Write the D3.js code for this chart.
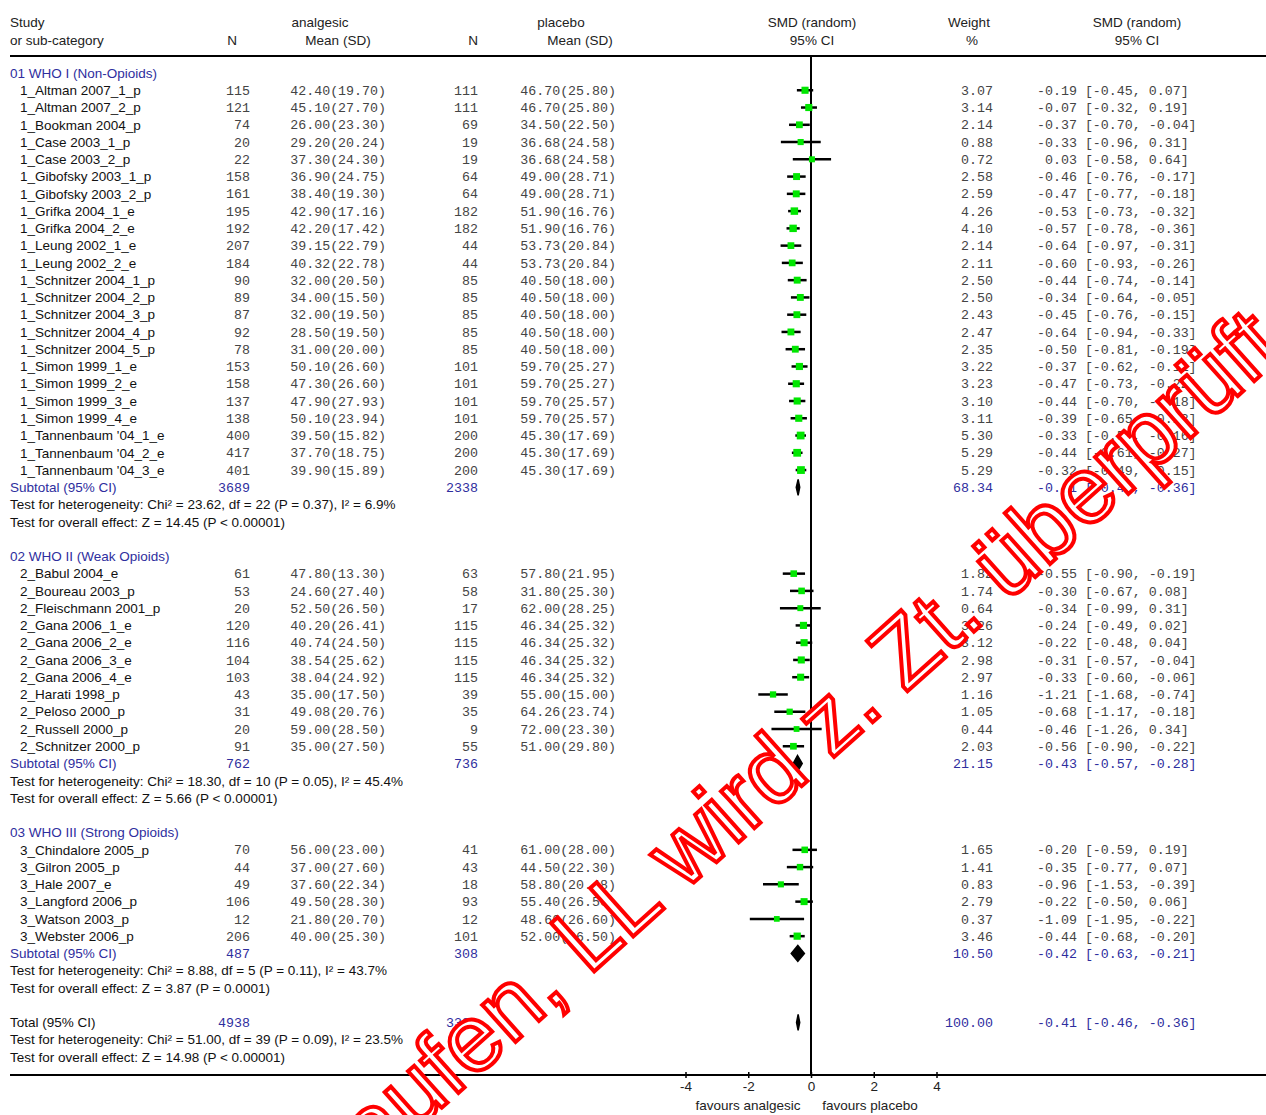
<!DOCTYPE html>
<html>
<head>
<meta charset="utf-8">
<script src="https://cdn.jsdelivr.net/npm/d3@7"></script>
<style>
  body { margin: 0; background: #fff; }
  text { font-family: "Liberation Sans", Arial, sans-serif; font-size: 13.5px; }
  .mono { font-family: "Liberation Mono", "Courier New", monospace; font-size: 13.3px; white-space: pre; }
</style>
</head>
<body>
<svg id="chart" width="1266" height="1115"></svg>
<script>
// ---- data ----
const groupTitles = ["01 WHO I (Non-Opioids)", "02 WHO II (Weak Opioids)", "03 WHO III (Strong Opioids)"];

const studyNames = [
  ["1_Altman 2007_1_p","1_Altman 2007_2_p","1_Bookman 2004_p","1_Case 2003_1_p","1_Case 2003_2_p",
   "1_Gibofsky 2003_1_p","1_Gibofsky 2003_2_p","1_Grifka 2004_1_e","1_Grifka 2004_2_e","1_Leung 2002_1_e",
   "1_Leung 2002_2_e","1_Schnitzer 2004_1_p","1_Schnitzer 2004_2_p","1_Schnitzer 2004_3_p","1_Schnitzer 2004_4_p",
   "1_Schnitzer 2004_5_p","1_Simon 1999_1_e","1_Simon 1999_2_e","1_Simon 1999_3_e","1_Simon 1999_4_e",
   "1_Tannenbaum '04_1_e","1_Tannenbaum '04_2_e","1_Tannenbaum '04_3_e"],
  ["2_Babul 2004_e","2_Boureau 2003_p","2_Fleischmann 2001_p","2_Gana 2006_1_e","2_Gana 2006_2_e",
   "2_Gana 2006_3_e","2_Gana 2006_4_e","2_Harati 1998_p","2_Peloso 2000_p","2_Russell 2000_p","2_Schnitzer 2000_p"],
  ["3_Chindalore 2005_p","3_Gilron 2005_p","3_Hale 2007_e","3_Langford 2006_p","3_Watson 2003_p","3_Webster 2006_p"]
];

const nAnalgesic = [
  [115,121,74,20,22,158,161,195,192,207,184,90,89,87,92,78,153,158,137,138,400,417,401],
  [61,53,20,120,116,104,103,43,31,20,91],
  [70,44,49,106,12,206]
];
const meanAnalgesic = [
  [42.40,45.10,26.00,29.20,37.30,36.90,38.40,42.90,42.20,39.15,40.32,32.00,34.00,32.00,28.50,31.00,50.10,47.30,47.90,50.10,39.50,37.70,39.90],
  [47.80,24.60,52.50,40.20,40.74,38.54,38.04,35.00,49.08,59.00,35.00],
  [56.00,37.00,37.60,49.50,21.80,40.00]
];
const sdAnalgesic = [
  [19.70,27.70,23.30,20.24,24.30,24.75,19.30,17.16,17.42,22.79,22.78,20.50,15.50,19.50,19.50,20.00,26.60,26.60,27.93,23.94,15.82,18.75,15.89],
  [13.30,27.40,26.50,26.41,24.50,25.62,24.92,17.50,20.76,28.50,27.50],
  [23.00,27.60,22.34,28.30,20.70,25.30]
];
const nPlacebo = [
  [111,111,69,19,19,64,64,182,182,44,44,85,85,85,85,85,101,101,101,101,200,200,200],
  [63,58,17,115,115,115,115,39,35,9,55],
  [41,43,18,93,12,101]
];
const meanPlacebo = [
  [46.70,46.70,34.50,36.68,36.68,49.00,49.00,51.90,51.90,53.73,53.73,40.50,40.50,40.50,40.50,40.50,59.70,59.70,59.70,59.70,45.30,45.30,45.30],
  [57.80,31.80,62.00,46.34,46.34,46.34,46.34,55.00,64.26,72.00,51.00],
  [61.00,44.50,58.80,55.40,48.60,52.00]
];
const sdPlacebo = [
  [25.80,25.80,22.50,24.58,24.58,28.71,28.71,16.76,16.76,20.84,20.84,18.00,18.00,18.00,18.00,18.00,25.27,25.27,25.57,25.57,17.69,17.69,17.69],
  [21.95,25.30,28.25,25.32,25.32,25.32,25.32,15.00,23.74,23.30,29.80],
  [28.00,22.30,20.48,26.50,26.60,26.50]
];
const weights = [
  [3.07,3.14,2.14,0.88,0.72,2.58,2.59,4.26,4.10,2.14,2.11,2.50,2.50,2.43,2.47,2.35,3.22,3.23,3.10,3.11,5.30,5.29,5.29],
  [1.82,1.74,0.64,3.26,3.12,2.98,2.97,1.16,1.05,0.44,2.03],
  [1.65,1.41,0.83,2.79,0.37,3.46]
];
const smd = [
  [-0.19,-0.07,-0.37,-0.33,0.03,-0.46,-0.47,-0.53,-0.57,-0.64,-0.60,-0.44,-0.34,-0.45,-0.64,-0.50,-0.37,-0.47,-0.44,-0.39,-0.33,-0.44,-0.32],
  [-0.55,-0.30,-0.34,-0.24,-0.22,-0.31,-0.33,-1.21,-0.68,-0.46,-0.56],
  [-0.20,-0.35,-0.96,-0.22,-1.09,-0.44]
];
const ciLow = [
  [-0.45,-0.32,-0.70,-0.96,-0.58,-0.76,-0.77,-0.73,-0.78,-0.97,-0.93,-0.74,-0.64,-0.76,-0.94,-0.81,-0.62,-0.73,-0.70,-0.65,-0.50,-0.61,-0.49],
  [-0.90,-0.67,-0.99,-0.49,-0.48,-0.57,-0.60,-1.68,-1.17,-1.26,-0.90],
  [-0.59,-0.77,-1.53,-0.50,-1.95,-0.68]
];
const ciHigh = [
  [0.07,0.19,-0.04,0.31,0.64,-0.17,-0.18,-0.32,-0.36,-0.31,-0.26,-0.14,-0.05,-0.15,-0.33,-0.19,-0.11,-0.22,-0.18,-0.13,-0.16,-0.27,-0.15],
  [-0.19,0.08,0.31,0.02,0.04,-0.04,-0.06,-0.74,-0.18,0.34,-0.22],
  [0.19,0.07,-0.39,0.06,-0.22,-0.20]
];

const subWeight = [68.34, 21.15, 10.50];
const subSmd = [-0.41, -0.43, -0.42];
const subLow = [-0.47, -0.57, -0.63];
const subHigh = [-0.36, -0.28, -0.21];
const hetTexts = [
  "Test for heterogeneity: Chi² = 23.62, df = 22 (P = 0.37), I² = 6.9%",
  "Test for heterogeneity: Chi² = 18.30, df = 10 (P = 0.05), I² = 45.4%",
  "Test for heterogeneity: Chi² = 8.88, df = 5 (P = 0.11), I² = 43.7%"
];
const effectTexts = [
  "Test for overall effect: Z = 14.45 (P < 0.00001)",
  "Test for overall effect: Z = 5.66 (P < 0.00001)",
  "Test for overall effect: Z = 3.87 (P = 0.0001)"
];
const total = { weight: 100.00, smd: -0.41, low: -0.46, high: -0.36 };
const totalHet = "Test for heterogeneity: Chi² = 51.00, df = 39 (P = 0.09), I² = 23.5%";
const totalEffect = "Test for overall effect: Z = 14.98 (P < 0.00001)";

const tickValues = [-4, -2, 0, 2, 4];
const watermark = "Gültigkeit abgelaufen, LL wird z. Zt. überprüft";

// ---- layout ----
const svg = d3.select("#chart");
const blue = "#2e2e9e";
const grey = "#444";

const x = d3.scaleLinear().domain([-4, 4]).range([685.5, 936.5]);
const y = d3.scaleLinear().domain([0, 57]).range([73, 1057]);
const axisY = 1075;

const f2 = v => v.toFixed(2);
const pad = (s, n) => s.padStart(n, " ");
const ciText = (e, l, h) => pad(f2(e), 5) + " [" + pad(f2(l), 5) + ", " + f2(h) + "]";

// header
const head = svg.append("g").attr("fill", "#222");
[["Study", 10, 22, "start"], ["or sub-category", 10, 40, "start"],
 ["N", 232, 40, "middle"], ["analgesic", 320, 22, "middle"], ["Mean (SD)", 338, 40, "middle"],
 ["N", 473, 40, "middle"], ["placebo", 561, 22, "middle"], ["Mean (SD)", 580, 40, "middle"],
 ["SMD (random)", 812, 22, "middle"], ["95% CI", 812, 40, "middle"],
 ["Weight", 969, 22, "middle"], ["%", 972, 40, "middle"],
 ["SMD (random)", 1137, 22, "middle"], ["95% CI", 1137, 40, "middle"]]
  .forEach(([t, hx, hy, a]) => head.append("text").attr("x", hx).attr("y", hy)
    .attr("dy", "0.35em").attr("text-anchor", a).text(t));

svg.append("line").attr("x1", 10).attr("x2", 1266).attr("y1", 56).attr("y2", 56)
  .attr("stroke", "#000").attr("stroke-width", 2);

// build row list
let row = 0;
const rows = [];
groupTitles.forEach((g, gi) => {
  rows.push({ type: "group", i: row++, label: g });
  studyNames[gi].forEach((name, si) => {
    rows.push({ type: "study", i: row++, label: name,
      nA: nAnalgesic[gi][si], mA: meanAnalgesic[gi][si], sA: sdAnalgesic[gi][si],
      nP: nPlacebo[gi][si], mP: meanPlacebo[gi][si], sP: sdPlacebo[gi][si],
      w: weights[gi][si], e: smd[gi][si], l: ciLow[gi][si], h: ciHigh[gi][si] });
  });
  rows.push({ type: "sub", i: row++, label: "Subtotal (95% CI)",
    nA: d3.sum(nAnalgesic[gi]), nP: d3.sum(nPlacebo[gi]),
    w: subWeight[gi], e: subSmd[gi], l: subLow[gi], h: subHigh[gi] });
  rows.push({ type: "note", i: row++, label: hetTexts[gi] });
  rows.push({ type: "note", i: row++, label: effectTexts[gi] });
  row++;
});
rows.push({ type: "total", i: row++, label: "Total (95% CI)",
  nA: d3.sum(nAnalgesic.flat()), nP: d3.sum(nPlacebo.flat()),
  w: total.weight, e: total.smd, l: total.low, h: total.high });
rows.push({ type: "note", i: row++, label: totalHet });
rows.push({ type: "note", i: row++, label: totalEffect });

// zero line
svg.append("line").attr("x1", x(0)).attr("x2", x(0)).attr("y1", 56).attr("y2", axisY)
  .attr("stroke", "#000").attr("stroke-width", 2);

const g = svg.append("g");
rows.forEach(r => {
  const ry = y(r.i);
  const labelX = r.type === "study" ? 20 : 10;
  const labelColor = (r.type === "group" || r.type === "sub") ? blue : "#111";
  g.append("text").attr("x", labelX).attr("y", ry).attr("dy", "0.35em")
    .attr("fill", labelColor).text(r.label);

  if (r.type === "study" || r.type === "sub" || r.type === "total") {
    const col = r.type === "study" ? grey : blue;
    const mono = (t, tx, a) => g.append("text").attr("class", "mono").attr("x", tx).attr("y", ry)
      .attr("dy", "0.35em").attr("text-anchor", a).attr("fill", col).text(t);
    mono(String(r.nA), 250, "end");
    mono(String(r.nP), 478, "end");
    if (r.type === "study") {
      mono(f2(r.mA) + "(" + f2(r.sA) + ")", 386, "end");
      mono(f2(r.mP) + "(" + f2(r.sP) + ")", 616, "end");
    }
    mono(f2(r.w), 993, "end");
    mono(ciText(r.e, r.l, r.h), 1037, "start");
  }

  if (r.type === "study") {
    g.append("line").attr("x1", x(r.l)).attr("x2", x(r.h)).attr("y1", ry).attr("y2", ry)
      .attr("stroke", "#000").attr("stroke-width", 2.5);
    const s = 5 + Math.sqrt(r.w) * 1.2;
    g.append("rect").attr("x", x(r.e) - s / 2).attr("y", ry - s / 2)
      .attr("width", s).attr("height", s).attr("fill", "#00e600");
  }
  if (r.type === "sub" || r.type === "total") {
    const hh = 8;
    g.append("path")
      .attr("d", `M${x(r.l)},${ry}L${x(r.e)},${ry - hh}L${x(r.h)},${ry}L${x(r.e)},${ry + hh}Z`)
      .attr("fill", "#000").attr("stroke", "#000").attr("stroke-width", 1.5);
  }
});

// bottom axis
svg.append("line").attr("x1", 10).attr("x2", 1266).attr("y1", axisY).attr("y2", axisY)
  .attr("stroke", "#000").attr("stroke-width", 2);
const ax = svg.append("g").attr("transform", `translate(0,${axisY})`)
  .call(d3.axisBottom(x).tickValues(tickValues).tickSize(3).tickFormat(d => String(d)));
ax.select(".domain").remove();
ax.selectAll(".tick line").attr("y1", -3).attr("y2", 3).attr("stroke-width", 1.5);
ax.selectAll(".tick text").attr("font-family", "Liberation Sans, Arial, sans-serif")
  .attr("font-size", 13).attr("fill", "#222");

svg.append("text").attr("x", 748).attr("y", 1105).attr("dy", "0.35em")
  .attr("text-anchor", "middle").attr("fill", "#222").text("favours analgesic");
svg.append("text").attr("x", 870).attr("y", 1105).attr("dy", "0.35em")
  .attr("text-anchor", "middle").attr("fill", "#222").text("favours placebo");

// stamp across the chart
svg.append("text")
  .attr("transform", "translate(1287,352) rotate(-41.8)")
  .attr("text-anchor", "end")
  .style("font-size", "94px")
  .attr("fill", "#fff").attr("stroke", "#ff0000").attr("stroke-width", 4)
  .text(watermark);
</script>
</body>
</html>
